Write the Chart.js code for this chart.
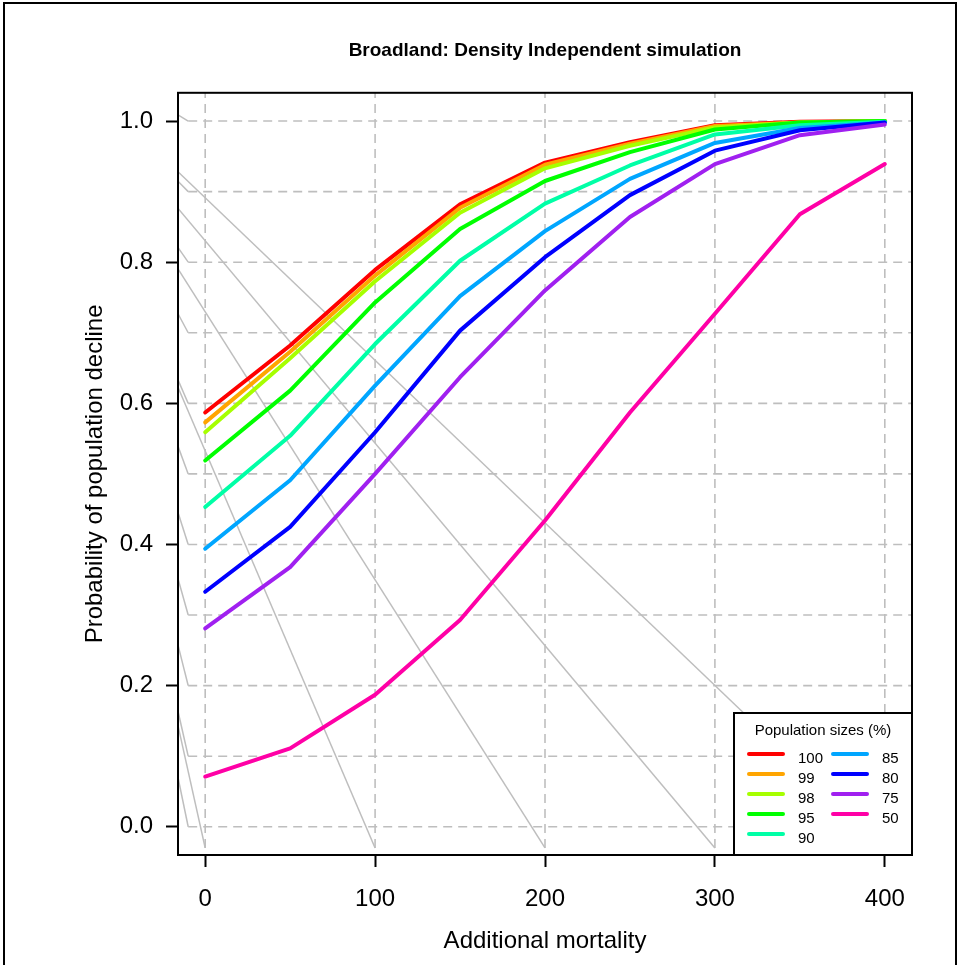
<!DOCTYPE html>
<html>
<head>
<meta charset="utf-8">
<script src="https://cdn.jsdelivr.net/npm/chart.js@4/dist/chart.umd.min.js"></script>
<style>
  html, body { margin: 0; padding: 0; background: #fff; overflow: hidden; }
  canvas { position: absolute; left: 0; top: 0; }
  #frame { position: absolute; left: 3px; top: 2px; width: 950px; height: 1000px; border: 2px solid #000; pointer-events: none; }
</style>
</head>
<body>
<canvas id="declineChart" width="958" height="965"></canvas>
<div id="frame"></div>
<script>
// DATA

const mortality = [0, 50, 100, 150, 200, 250, 300, 350, 400];
const sizeLabels = ['100', '99', '98', '95', '90', '85', '80', '75', '50'];
const p100 = [0.587, 0.682, 0.789, 0.882, 0.941, 0.970, 0.994, 0.999, 1.000];
const p99  = [0.573, 0.673, 0.781, 0.877, 0.938, 0.968, 0.993, 0.998, 1.000];
const p98  = [0.559, 0.664, 0.773, 0.870, 0.933, 0.965, 0.991, 0.998, 1.000];
const p95  = [0.519, 0.618, 0.743, 0.847, 0.915, 0.956, 0.988, 0.998, 1.000];
const p90  = [0.453, 0.554, 0.684, 0.802, 0.883, 0.937, 0.981, 0.994, 0.999];
const p85  = [0.394, 0.491, 0.625, 0.752, 0.844, 0.918, 0.969, 0.990, 0.998];
const p80  = [0.333, 0.425, 0.559, 0.703, 0.807, 0.895, 0.958, 0.987, 0.998];
const p75  = [0.281, 0.368, 0.500, 0.637, 0.760, 0.864, 0.939, 0.980, 0.995];
const p50  = [0.071, 0.111, 0.187, 0.293, 0.434, 0.587, 0.727, 0.868, 0.939];
const series = [p100, p99, p98, p95, p90, p85, p80, p75, p50];
const colors = ['#FF0000', '#FFA500', '#A6FF00', '#00FF00', '#00FFA6', '#00A6FF', '#0000FF', '#A020F0', '#FF00A6'];

const xTicks = [0, 100, 200, 300, 400];
const yTicks = [0, 0.2, 0.4, 0.6, 0.8, 1.0];
const gridX = [0, 100, 200, 300, 400];
const gridY = [0, 0.1, 0.2, 0.3, 0.4, 0.5, 0.6, 0.7, 0.8, 0.9, 1.0];
const gridLeft = -10;
const gridBottom = -0.03;
// the stray grey lines all fan out from one point left of the plot
const rayOrigin = { x: -108, y: 1.14 };

const FONT = 'Liberation Sans, Arial, sans-serif';
Chart.defaults.font.family = FONT;
Chart.defaults.color = '#000';

var datasets = [];

// coloured series
series.forEach((vals, i) => {
    datasets.push({
        label: sizeLabels[i],
        data: mortality.map((m, j) => ({ x: m, y: vals[j] })),
        borderColor: colors[i],
        borderWidth: 4,
        borderCapStyle: 'round',
        borderJoinStyle: 'round',
        pointRadius: 0,
        tension: 0,
        order: 20 - i
    });
});

// grey rays
var rayEnds = gridY.map(v => ({ x: gridLeft, y: v })).concat(gridX.map(v => ({ x: v, y: gridBottom })));
rayEnds.forEach(end => {
    datasets.push({
        data: [rayOrigin, end],
        borderColor: '#BEBEBE',
        borderWidth: 1.5,
        pointRadius: 0,
        order: 50
    });
});

// dashed grid
gridY.forEach(v => {
    datasets.push({
        data: [{ x: gridLeft, y: v }, { x: 420, y: v }],
        borderColor: '#BEBEBE',
        borderWidth: 1.6,
        borderDash: [9, 6],
        pointRadius: 0,
        order: 100
    });
});
gridX.forEach(v => {
    datasets.push({
        data: [{ x: v, y: gridBottom }, { x: v, y: 1.06 }],
        borderColor: '#BEBEBE',
        borderWidth: 1.6,
        borderDash: [9, 6],
        pointRadius: 0,
        order: 100
    });
});

// FRAME + LEGEND

var plotFrame = {
    id: 'plotFrame',
    afterDatasetsDraw(chart) {
        var ctx = chart.ctx, a = chart.chartArea;
        ctx.save();
        ctx.strokeStyle = '#000';
        ctx.lineWidth = 2;
        ctx.strokeRect(a.left, a.top, a.right - a.left, a.bottom - a.top);
        ctx.restore();
    }
};

var legendBox = {
    id: 'legendBox',
    afterDraw(chart) {
        var ctx = chart.ctx, a = chart.chartArea;
        var w = 178, h = 142;
        var left = a.right - w, top = a.bottom - h;
        ctx.save();
        ctx.fillStyle = '#fff';
        ctx.fillRect(left, top, w, h);
        ctx.strokeStyle = '#000';
        ctx.lineWidth = 2;
        ctx.strokeRect(left, top, w, h);
        ctx.fillStyle = '#000';
        ctx.font = '15px ' + FONT;
        ctx.textAlign = 'center';
        ctx.textBaseline = 'middle';
        ctx.fillText('Population sizes (%)', left + w / 2, top + 18);
        ctx.textAlign = 'left';
        ctx.lineCap = 'round';
        sizeLabels.forEach((lab, i) => {
            var col = i < 5 ? 0 : 1;
            var row = i < 5 ? i : i - 5;
            var y = top + 41 + row * 20;
            var x0 = left + 15 + col * 84;
            ctx.strokeStyle = colors[i];
            ctx.lineWidth = 4;
            ctx.beginPath();
            ctx.moveTo(x0, y);
            ctx.lineTo(x0 + 34, y);
            ctx.stroke();
            ctx.fillText(lab, x0 + 49, y + 5);
        });
        ctx.restore();
    }
};

var ctxDecline = document.getElementById('declineChart').getContext('2d');
var declineChart = new Chart(ctxDecline, {
    type: 'line',
    data: { datasets: datasets },
    plugins: [plotFrame, legendBox],
    options: {
        responsive: false,
        animation: false,
        devicePixelRatio: 1,
        layout: { padding: { left: 0, right: 46, top: 0, bottom: 0 } },
        plugins: {
            legend: { display: false },
            tooltip: { enabled: false },
            title: {
                display: true,
                text: 'Broadland: Density Independent simulation',
                font: { size: 19, weight: 'bold' },
                color: '#000',
                fullSize: false,
                padding: { top: 39, bottom: 31 }
            }
        },
        scales: {
            x: {
                type: 'linear',
                min: -16,
                max: 416,
                afterBuildTicks: axis => { axis.ticks = xTicks.map(v => ({ value: v })); },
                afterFit: axis => { axis.height = 110; },
                grid: { drawOnChartArea: false, drawTicks: true, tickLength: 12, tickColor: '#000', tickWidth: 2, tickBorderDash: [] },
                border: { display: false },
                ticks: { font: { size: 24 }, color: '#000', padding: 18, autoSkip: false, maxRotation: 0, callback: v => String(v) },
                title: { display: true, text: 'Additional mortality', font: { size: 24 }, color: '#000', padding: { top: 0, bottom: 9 } }
            },
            y: {
                min: -0.04,
                max: 1.04,
                afterBuildTicks: axis => { axis.ticks = yTicks.map(v => ({ value: v })); },
                afterFit: axis => { axis.width = 178; },
                grid: { drawOnChartArea: false, drawTicks: true, tickLength: 12, tickColor: '#000', tickWidth: 2, tickBorderDash: [] },
                border: { display: false },
                ticks: { font: { size: 24 }, color: '#000', padding: 13, autoSkip: false, callback: v => Number(v).toFixed(1) },
                title: { display: true, text: 'Probability of population decline', font: { size: 24 }, color: '#000', padding: { top: 81, bottom: 0 } }
            }
        }
    }
});
</script>
</body>
</html>
